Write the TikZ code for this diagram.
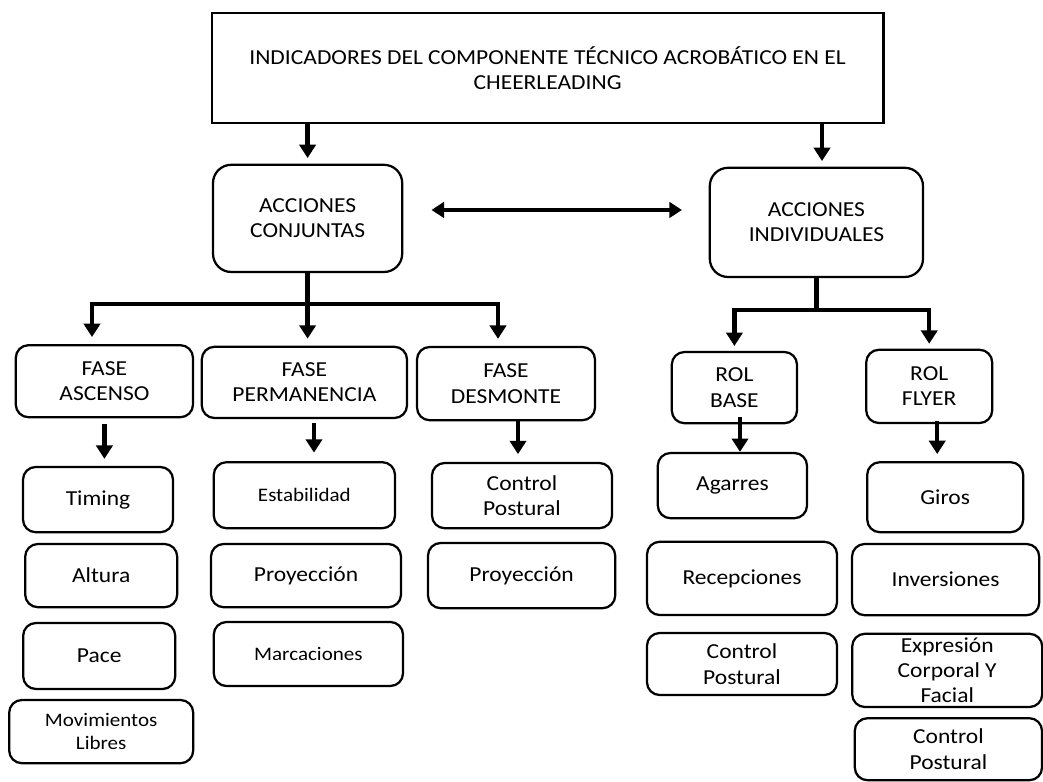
\documentclass[tikz,border=0pt]{standalone}
\usepackage{fontspec}
\setmainfont{Carlito}[FakeStretch=1.1]
\usepackage{tikz}
\usetikzlibrary{arrows.meta,positioning}

\begin{document}
\begin{tikzpicture}[
        box/.style={draw, line width=1.6pt, rounded corners=9pt, align=center, inner sep=1pt, font=\fontsize{15.2}{18}\selectfont},
        bigbox/.style={box, rounded corners=13pt},
        topbox/.style={box, sharp corners, line width=2pt},
        smalltxt/.style={font=\fontsize{13.6}{16}\selectfont},
        arrow/.style={-{Triangle[length=9.5pt,width=11.5pt]}, line width=3pt},
        dblarrow/.style={{Triangle[length=9pt,width=11pt]}-{Triangle[length=9pt,width=11pt]}, line width=2.6pt},
        link/.style={line width=3pt}
    ]
        \useasboundingbox (0,0) rectangle (26.075,-19.55);

        % Top
        \node[topbox, minimum width=16.78cm, minimum height=2.75cm] (top) at (13.69,-1.70) {INDICADORES DEL COMPONENTE TÉCNICO ACROBÁTICO EN EL\\CHEERLEADING};
        \node[bigbox, minimum width=4.73cm, minimum height=2.68cm] (conj) at (7.69,-5.46) {ACCIONES\\CONJUNTAS};
        \node[bigbox, minimum width=5.33cm, minimum height=2.73cm] (indiv) at (20.41,-5.56) {ACCIONES\\INDIVIDUALES};
        \draw[arrow, shorten >=4pt] (conj.north |- top.south) -- (conj.north);
        \draw[arrow, shorten >=4pt] ([xshift=0.14cm]indiv.north |- top.south) -- ([xshift=0.14cm]indiv.north);
        \draw[dblarrow, shorten <=20pt, shorten >=19pt] ([yshift=6pt]conj.east) -- ([yshift=6pt]conj.east -| indiv.west);

        % Phases and roles
        \node[box, minimum width=4.43cm, minimum height=1.80cm] (asc) at (2.61,-9.53) {FASE\\ASCENSO};
        \node[box, minimum width=5.13cm, minimum height=1.78cm] (perm) at (7.61,-9.56) {FASE\\PERMANENCIA};
        \node[box, minimum width=4.45cm, minimum height=1.83cm] (desm) at (12.65,-9.59) {FASE\\DESMONTE};
        \node[box, minimum width=3.13cm, minimum height=1.78cm] (base) at (18.36,-9.69) {ROL\\BASE};
        \node[box, minimum width=3.15cm, minimum height=1.83cm] (flyer) at (23.23,-9.66) {ROL\\FLYER};

        \draw[link] (conj.south) -- ++(0,-0.78) coordinate (jc);
        \draw[arrow, shorten >=5pt] (jc) -| ([xshift=-0.31cm]asc.north);
        \draw[arrow, shorten >=5pt] (jc) -- (jc |- perm.north);
        \draw[arrow, shorten >=5pt] (jc) -| ([xshift=-0.2cm]desm.north);
        \draw[link] (indiv.south) -- ++(0,-0.8) coordinate (ji);
        \draw[arrow, shorten >=3.5pt] (ji) -| (base.north);
        \draw[arrow, shorten >=3.5pt] (ji) -| (flyer.north);

        % Ascenso
        \node[box, minimum width=3.75cm, minimum height=1.63cm] (timing) at (2.45,-12.49) {Timing};
        \node[box, minimum width=3.80cm, minimum height=1.58cm] (altura) at (2.53,-14.39) {Altura};
        \node[box, minimum width=3.80cm, minimum height=1.65cm] (pace) at (2.48,-16.40) {Pace};
        \node[box, smalltxt, minimum width=4.60cm, minimum height=1.58cm] (movs) at (2.53,-18.29) {Movimientos\\Libres};

        % Permanencia
        \node[box, smalltxt, minimum width=4.53cm, minimum height=1.65cm] (estab) at (7.61,-12.38) {Estabilidad};
        \node[box, minimum width=4.75cm, minimum height=1.58cm] (proy1) at (7.65,-14.39) {Proyección};
        \node[box, smalltxt, minimum width=4.73cm, minimum height=1.60cm] (marc) at (7.71,-16.35) {Marcaciones};

        % Desmonte
        \node[box, minimum width=4.50cm, minimum height=1.63cm] (ctrl1) at (13.05,-12.39) {Control\\Postural};
        \node[box, minimum width=4.68cm, minimum height=1.63cm] (proy2) at (13.04,-14.39) {Proyección};

        % Base
        \node[box, minimum width=3.73cm, minimum height=1.63cm] (agarres) at (18.31,-12.14) {Agarres};
        \node[box, minimum width=4.75cm, minimum height=1.83cm] (recep) at (18.55,-14.46) {Recepciones};
        \node[box, minimum width=4.75cm, minimum height=1.55cm] (ctrl2) at (18.55,-16.60) {Control\\Postural};

        % Flyer
        \node[box, minimum width=3.90cm, minimum height=1.75cm] (giros) at (23.63,-12.43) {Giros};
        \node[box, minimum width=4.68cm, minimum height=1.78cm] (inver) at (23.64,-14.49) {Inversiones};
        \node[box, inner ysep=0pt, minimum width=4.75cm, minimum height=1.83cm] (expr) at (23.68,-16.76) {Expresión\\Corporal Y\\Facial};
        \node[box, minimum width=4.68cm, minimum height=1.55cm] (ctrl3) at (23.71,-18.73) {Control\\Postural};

        \draw[arrow, shorten <=4pt, shorten >=5pt] (asc.south) -- (asc.south |- timing.north);
        \draw[arrow, shorten <=3pt, shorten >=6pt] ([xshift=0.24cm]perm.south) -- ([xshift=0.24cm]perm.south |- estab.north);
        \draw[arrow, shorten >=5.5pt] ([xshift=0.3cm]desm.south) -- ([xshift=0.3cm]desm.south |- ctrl1.north);
        \draw[arrow, shorten <=-5pt] ([xshift=0.14cm]base.south) -- ([xshift=0.14cm]base.south |- agarres.north);
        \draw[arrow, shorten <=-2pt, shorten >=5pt] ([xshift=0.2cm]flyer.south) -- ([xshift=0.2cm]flyer.south |- giros.north);
    \end{tikzpicture}
\end{document}
